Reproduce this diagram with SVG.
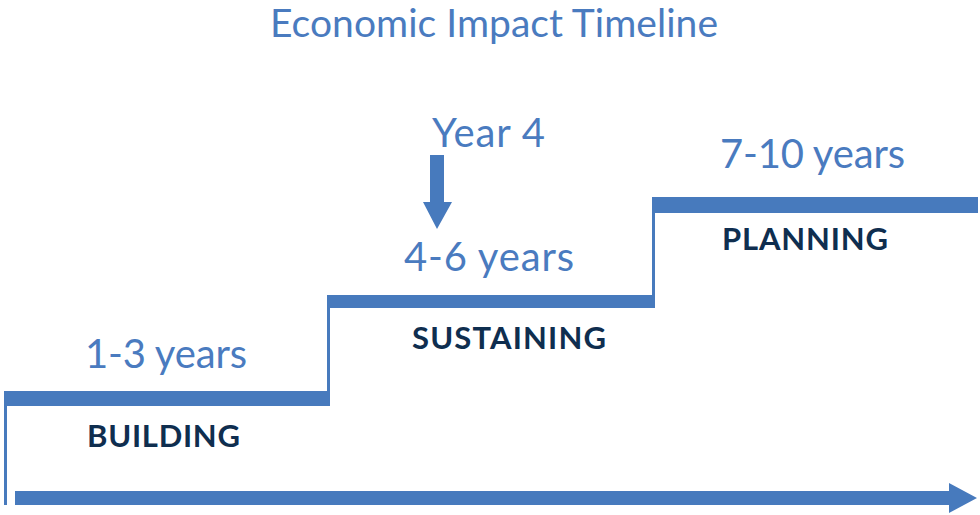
<svg xmlns="http://www.w3.org/2000/svg" width="980" height="515" viewBox="0 0 980 515">
<style>
.bar{fill:#477abd}
.thin{stroke:#477abd;stroke-width:3;fill:none}
.yr{font-family:Lato,"Open Sans",sans-serif;font-size:40px;fill:#4a7bbf}
.lbl{font-family:Lato,"Open Sans",sans-serif;font-size:31px;font-weight:bold;fill:#0f2e4f}
.title{font-family:Lato,"Open Sans",sans-serif;font-size:39px;fill:#4a7bbf}
</style>
<rect width="980" height="515" fill="#fff"/>
<text class="title" x="270" y="37" textLength="448" lengthAdjust="spacing">Economic Impact Timeline</text>
<g id="connectors">
<path class="thin" d="M5.5 398 V505"/>
<path class="thin" d="M328.5 302 V400"/>
<path class="thin" d="M653.5 204 V302"/>
<polygon class="bar" points="15,491 949,491 949,483 977,498 949,513 949,505 15,505"/>
<polygon class="bar" points="430,155 444,155 444,202 452,202 437,229 423,202 430,202"/>
</g>
<g id="step1">
<rect class="bar" x="4" y="391" width="326" height="15"/>
<text class="yr" x="85" y="368" textLength="162" lengthAdjust="spacing">1-3 years</text>
<text class="lbl" x="87" y="447" textLength="153" lengthAdjust="spacing">BUILDING</text>
</g>
<g id="step2">
<rect class="bar" x="327" y="295" width="328" height="13"/>
<text class="yr" x="404" y="271" textLength="170" lengthAdjust="spacing">4-6 years</text>
<text class="lbl" x="412" y="349" textLength="194" lengthAdjust="spacing">SUSTAINING</text>
</g>
<g id="step3">
<rect class="bar" x="652" y="197" width="326" height="16"/>
<text class="yr" x="720" y="168" textLength="185" lengthAdjust="spacing">7-10 years</text>
<text class="lbl" x="722" y="250" textLength="166" lengthAdjust="spacing">PLANNING</text>
</g>
<g id="year4">
<text class="yr" x="432" y="147" textLength="113" lengthAdjust="spacing">Year 4</text>
</g>
</svg>
